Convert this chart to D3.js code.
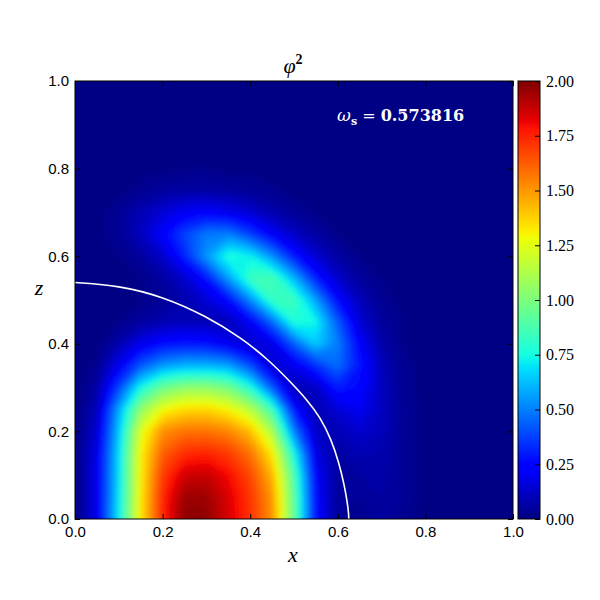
<!DOCTYPE html>
<html>
<head>
<meta charset="utf-8">
<script src="https://cdnjs.cloudflare.com/ajax/libs/d3/7.8.5/d3.min.js"></script>
<style>
  body { margin: 0; background: #ffffff; }
</style>
</head>
<body>
<div id="chart"></div>
<script>
var xGrid = [0, 0.05, 0.1, 0.15, 0.2, 0.25, 0.3, 0.35, 0.4, 0.45, 0.5, 0.55, 0.6, 0.65, 0.7, 0.75, 0.8, 0.85, 0.9, 0.95, 1.0];
var zGrid = [0, 0.05, 0.1, 0.15, 0.2, 0.25, 0.3, 0.35, 0.4, 0.45, 0.5, 0.55, 0.6, 0.65, 0.7, 0.75, 0.8, 0.85, 0.9, 0.95, 1.0];

// one row per z value, one entry per x value
var phi2 = [
  [0, 0.19, 0.72, 1.33, 1.75, 1.98, 1.97, 1.85, 1.72, 1.52, 0.94, 0.25, 0.04, 0.03, 0.05, 0.03, 0.01, 0, 0, 0, 0],
  [0, 0.19, 0.70, 1.32, 1.74, 1.95, 1.95, 1.84, 1.71, 1.50, 0.92, 0.24, 0.04, 0.04, 0.06, 0.04, 0.01, 0, 0, 0, 0],
  [0, 0.19, 0.69, 1.31, 1.70, 1.86, 1.88, 1.80, 1.67, 1.44, 0.88, 0.22, 0.05, 0.06, 0.07, 0.04, 0.01, 0, 0, 0, 0],
  [0, 0.18, 0.68, 1.30, 1.62, 1.73, 1.75, 1.70, 1.58, 1.32, 0.75, 0.17, 0.06, 0.09, 0.08, 0.04, 0.01, 0, 0, 0, 0],
  [0, 0.14, 0.64, 1.24, 1.52, 1.58, 1.58, 1.54, 1.42, 1.12, 0.50, 0.12, 0.09, 0.14, 0.10, 0.04, 0.01, 0, 0, 0, 0],
  [0, 0.10, 0.58, 1.05, 1.28, 1.36, 1.37, 1.30, 1.15, 0.85, 0.28, 0.09, 0.15, 0.20, 0.11, 0.04, 0.01, 0, 0, 0, 0],
  [0, 0.06, 0.38, 0.75, 0.96, 1.04, 1.05, 0.98, 0.78, 0.42, 0.09, 0.12, 0.30, 0.25, 0.11, 0.03, 0.01, 0, 0, 0, 0],
  [0, 0.03, 0.20, 0.42, 0.55, 0.60, 0.60, 0.57, 0.40, 0.15, 0.19, 0.33, 0.46, 0.28, 0.10, 0.03, 0.01, 0, 0, 0, 0],
  [0, 0.01, 0.08, 0.19, 0.26, 0.28, 0.27, 0.20, 0.13, 0.18, 0.43, 0.65, 0.50, 0.23, 0.07, 0.02, 0.01, 0, 0, 0, 0],
  [0, 0, 0.02, 0.05, 0.08, 0.10, 0.09, 0.10, 0.21, 0.45, 0.78, 0.74, 0.42, 0.15, 0.05, 0.02, 0, 0, 0, 0, 0],
  [0, 0, 0.01, 0.02, 0.04, 0.08, 0.15, 0.25, 0.52, 0.83, 0.85, 0.56, 0.25, 0.10, 0.03, 0.01, 0, 0, 0, 0, 0],
  [0, 0, 0.01, 0.02, 0.06, 0.13, 0.28, 0.56, 0.84, 0.87, 0.60, 0.30, 0.13, 0.05, 0.02, 0, 0, 0, 0, 0, 0],
  [0, 0, 0.02, 0.05, 0.13, 0.31, 0.55, 0.78, 0.73, 0.53, 0.29, 0.14, 0.06, 0.02, 0.01, 0, 0, 0, 0, 0, 0],
  [0, 0.01, 0.04, 0.11, 0.23, 0.38, 0.49, 0.50, 0.37, 0.22, 0.12, 0.06, 0.02, 0.01, 0, 0, 0, 0, 0, 0, 0],
  [0, 0.01, 0.04, 0.09, 0.15, 0.21, 0.23, 0.19, 0.14, 0.08, 0.04, 0.02, 0.01, 0, 0, 0, 0, 0, 0, 0, 0],
  [0, 0, 0.01, 0.03, 0.05, 0.06, 0.06, 0.05, 0.04, 0.03, 0.01, 0, 0, 0, 0, 0, 0, 0, 0, 0, 0],
  [0, 0, 0, 0.01, 0.01, 0.02, 0.02, 0.01, 0.01, 0, 0, 0, 0, 0, 0, 0, 0, 0, 0, 0, 0],
  [0, 0, 0, 0, 0, 0, 0, 0, 0, 0, 0, 0, 0, 0, 0, 0, 0, 0, 0, 0, 0],
  [0, 0, 0, 0, 0, 0, 0, 0, 0, 0, 0, 0, 0, 0, 0, 0, 0, 0, 0, 0, 0],
  [0, 0, 0, 0, 0, 0, 0, 0, 0, 0, 0, 0, 0, 0, 0, 0, 0, 0, 0, 0, 0],
  [0, 0, 0, 0, 0, 0, 0, 0, 0, 0, 0, 0, 0, 0, 0, 0, 0, 0, 0, 0, 0]
];

// white boundary curve
var boundaryX = [0, 0.1, 0.2, 0.3, 0.38, 0.44, 0.49, 0.53, 0.56, 0.585, 0.603, 0.615, 0.622, 0.625, 0.625];
var boundaryZ = [0.54, 0.533, 0.508, 0.463, 0.413, 0.365, 0.315, 0.272, 0.232, 0.182, 0.127, 0.077, 0.036, 0.01, 0];

var axisTicks = [0, 0.2, 0.4, 0.6, 0.8, 1.0];
var cbTicks = [0, 0.25, 0.5, 0.75, 1.0, 1.25, 1.5, 1.75, 2.0];
var cbDomain = [0, 2];
var omegaValue = "0.573816";

var width = 600, height = 600;
var plotLeft = 75, plotTop = 81, plotW = 438, plotH = 438;
var cbLeft = 518, cbW = 22;

var svg = d3.select("#chart")
  .append("svg")
  .attr("width", width)
  .attr("height", height)
  .style("display", "block")

var x = d3.scaleLinear().domain([0, 1]).range([plotLeft, plotLeft + plotW])
var y = d3.scaleLinear().domain([0, 1]).range([plotTop + plotH, plotTop])
var cbScale = d3.scaleLinear().domain(cbDomain).range([plotTop + plotH, plotTop])

// matplotlib "jet"
var jetR = [[0, 0], [0.35, 0], [0.66, 1], [0.89, 1], [1, 0.5]];
var jetG = [[0, 0], [0.125, 0], [0.375, 1], [0.64, 1], [0.91, 0], [1, 0]];
var jetB = [[0, 0.5], [0.11, 1], [0.34, 1], [0.65, 0], [1, 0]];
function channel(pts, t) {
  for (var k = 1; k < pts.length; k++) {
    if (t <= pts[k][0]) {
      var a = pts[k - 1], b = pts[k];
      return a[1] + (b[1] - a[1]) * (t - a[0]) / (b[0] - a[0]);
    }
  }
  return pts[pts.length - 1][1];
}
function jet(t) {
  t = Math.max(0, Math.min(1, t));
  return d3.rgb(255 * channel(jetR, t), 255 * channel(jetG, t), 255 * channel(jetB, t)).toString();
}
var color = d3.scaleSequential(jet).domain(cbDomain)

var defs = svg.append("defs")
defs.append("clipPath").attr("id", "plotClip")
  .append("rect")
  .attr("x", plotLeft).attr("y", plotTop)
  .attr("width", plotW).attr("height", plotH)

var soft = defs.append("filter").attr("id", "soft")
  .attr("x", "-5%").attr("y", "-5%").attr("width", "110%").attr("height", "110%")
soft.append("feGaussianBlur").attr("stdDeviation", 3)

// heat map as filled contour bands
var flat = [];
phi2.forEach(function(row) { row.forEach(function(v) { flat.push(v); }); });
var step = 0.02;
var levels = d3.range(0, cbDomain[1], step);
var bands = d3.contours()
  .size([xGrid.length, zGrid.length])
  .thresholds(levels)(flat);

var dxg = xGrid[1] - xGrid[0], dzg = zGrid[1] - zGrid[0];
var proj = d3.geoTransform({
  point: function(px, py) {
    this.stream.point(x(xGrid[0] + (px - 0.5) * dxg), y(zGrid[0] + (py - 0.5) * dzg));
  }
});
var path = d3.geoPath(proj);

var plot = svg.append("g").attr("clip-path", "url(#plotClip)")
plot.append("rect")
  .attr("x", plotLeft).attr("y", plotTop)
  .attr("width", plotW).attr("height", plotH)
  .attr("fill", color(0))

plot.append("g")
  .attr("filter", "url(#soft)")
  .selectAll("path")
  .data(bands)
  .enter().append("path")
  .attr("d", path)
  .attr("fill", function(d) { return color(d.value + step / 2); })

var boundary = boundaryX.map(function(v, k) { return [v, boundaryZ[k]]; });
plot.append("path")
  .datum(boundary)
  .attr("d", d3.line()
    .x(function(d) { return x(d[0]); })
    .y(function(d) { return y(d[1]); })
    .curve(d3.curveBasis))
  .attr("fill", "none")
  .attr("stroke", "#ffffff")
  .attr("stroke-width", 1.6)

// omega label
var om = svg.append("text")
  .attr("x", 337).attr("y", 121)
  .attr("fill", "#ffffff")
  .style("font-family", "'DejaVu Serif', serif")
  .style("font-size", "16px")
om.append("tspan").text("ω").style("font-style", "italic").style("font-size", "17px")
om.append("tspan").text("s").attr("dy", 4).style("font-weight", "bold").style("font-size", "11px")
om.append("tspan").text(" = ").attr("dy", -4)
om.append("tspan").text(omegaValue).style("font-weight", "bold")

// axes, ticks pointing inwards on all four sides
function styleAxis(g) {
  g.select(".domain").remove();
  g.selectAll(".tick line").attr("stroke", "#000").attr("stroke-width", 1);
  g.selectAll("text")
    .attr("fill", "#000")
    .style("font-family", "'Liberation Sans', Arial, sans-serif")
    .style("font-size", "15px");
}
svg.append("g")
  .attr("transform", "translate(0," + (plotTop + plotH) + ")")
  .call(d3.axisBottom(x).tickValues(axisTicks).tickFormat(d3.format(".1f")).tickSize(-5).tickPadding(7))
  .call(styleAxis)
svg.append("g")
  .attr("transform", "translate(" + plotLeft + ",0)")
  .call(d3.axisLeft(y).tickValues(axisTicks).tickFormat(d3.format(".1f")).tickSize(-5).tickPadding(6))
  .call(styleAxis)
svg.append("g")
  .attr("transform", "translate(0," + plotTop + ")")
  .call(d3.axisTop(x).tickValues(axisTicks).tickFormat("").tickSize(-5))
  .call(styleAxis)
svg.append("g")
  .attr("transform", "translate(" + (plotLeft + plotW) + ",0)")
  .call(d3.axisRight(y).tickValues(axisTicks).tickFormat("").tickSize(-5))
  .call(styleAxis)

svg.append("rect")
  .attr("x", plotLeft).attr("y", plotTop)
  .attr("width", plotW).attr("height", plotH)
  .attr("fill", "none")
  .attr("stroke", "#000")
  .attr("stroke-width", 1)

// colorbar
var grad = defs.append("linearGradient").attr("id", "cbGrad")
  .attr("x1", 0).attr("y1", 1).attr("x2", 0).attr("y2", 0)
grad.selectAll("stop")
  .data(d3.range(0, 1.0001, 0.01))
  .enter().append("stop")
  .attr("offset", function(d) { return d; })
  .attr("stop-color", function(d) { return jet(d); })

svg.append("rect")
  .attr("x", cbLeft).attr("y", cbScale(cbDomain[1]))
  .attr("width", cbW).attr("height", cbScale(cbDomain[0]) - cbScale(cbDomain[1]))
  .attr("fill", "url(#cbGrad)")
  .attr("stroke", "#000")
  .attr("stroke-width", 1)

svg.append("g")
  .attr("transform", "translate(" + (cbLeft + cbW) + ",0)")
  .call(d3.axisRight(cbScale).tickValues(cbTicks).tickFormat(d3.format(".2f")).tickSize(-5).tickPadding(6))
  .call(styleAxis)
  .selectAll("text")
  .style("font-family", "'Liberation Serif', 'Times New Roman', serif")
  .style("font-size", "16px")

// title and axis labels
var title = svg.append("text")
  .attr("x", 293).attr("y", 73)
  .attr("text-anchor", "middle")
  .style("font-family", "'Liberation Serif', serif")
  .style("font-size", "22px")
title.append("tspan").text("φ").style("font-style", "italic")
title.append("tspan").text("2").attr("dy", -9).style("font-weight", "bold").style("font-size", "14px")

svg.append("text")
  .attr("x", 293).attr("y", 562)
  .attr("text-anchor", "middle")
  .style("font-family", "'Liberation Serif', serif")
  .style("font-style", "italic")
  .style("font-size", "22px")
  .text("x")

svg.append("text")
  .attr("x", 39).attr("y", 295)
  .attr("text-anchor", "middle")
  .style("font-family", "'Liberation Serif', serif")
  .style("font-style", "italic")
  .style("font-size", "22px")
  .text("z")
</script>
</body>
</html>
